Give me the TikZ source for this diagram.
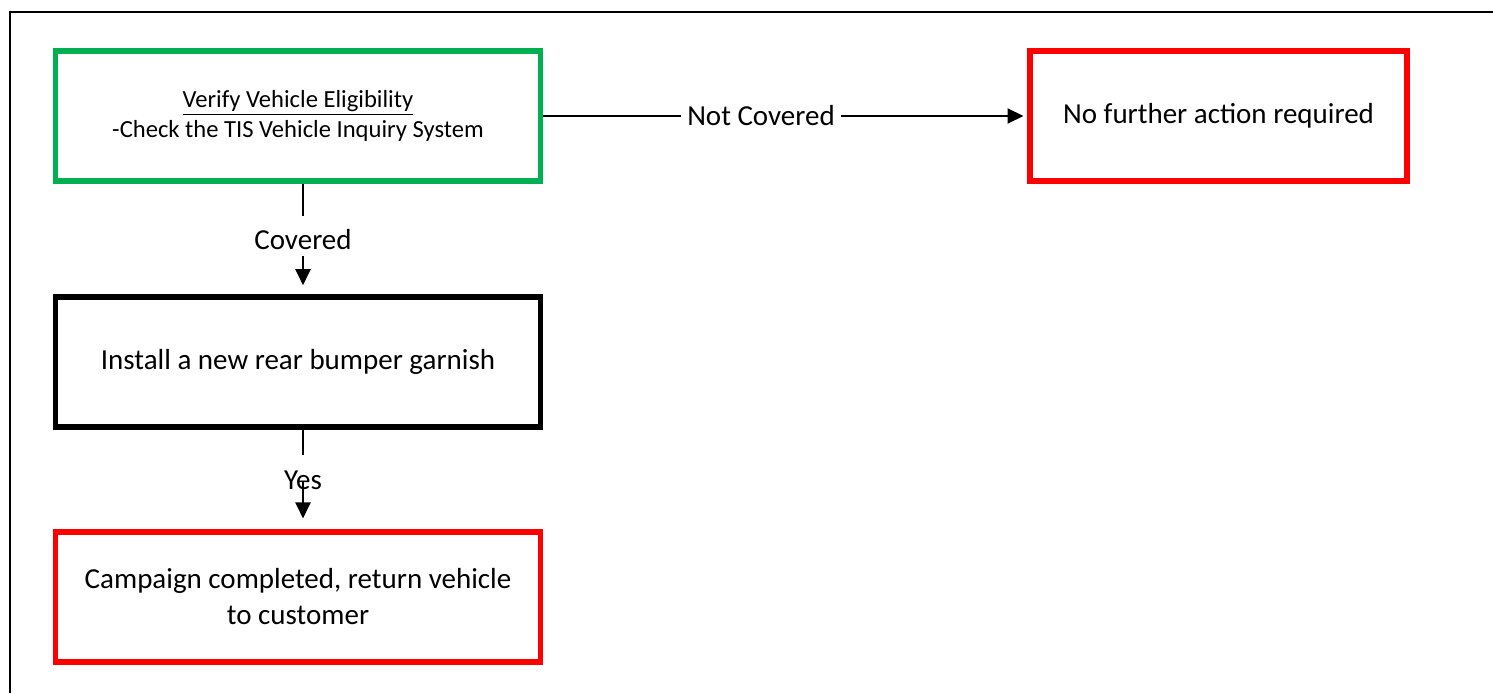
\documentclass[tikz,border=0pt]{standalone}
\usepackage{fontspec}
\setmainfont{Carlito}
\usetikzlibrary{arrows.meta}
\definecolor{boxgreen}{RGB}{0,176,80}
\definecolor{boxred}{RGB}{255,0,0}

\begin{document}
\begin{tikzpicture}[line width=1.1pt,
  box/.style={draw, line width=3.4pt, minimum width=9.7cm, minimum height=2.6cm, align=center, font=\fontsize{16.5}{20.5}\selectfont},
  lbl/.style={inner sep=3pt, font=\fontsize{16.5}{19}\selectfont},
  arr/.style={-{Triangle[length=0.32cm, width=0.3cm]}}]
\useasboundingbox (0,0) rectangle (29.86,-13.86) ;
\coordinate (FL) at (0.2,-13.86) ;
\coordinate (FC) at (0.2,-0.24) ;
\coordinate (FR) at (29.86,-0.24) ;
\draw[line width=1.7pt] (FL) -- (FC) -- (FR) ;
\node[box, draw=boxgreen, font=\fontsize{14}{17.5}\selectfont] (verify) at (5.96,-2.32)
  {\underline{Verify Vehicle Eligibility}\\-Check the TIS Vehicle Inquiry System} ;
\node[box, draw=boxred, minimum width=7.54cm] (nofurther) at (24.37,-2.32) {No further action required} ;
\node[box, draw=black] (install) at (5.96,-7.24) {Install a new rear bumper garnish} ;
\node[box, draw=boxred] (campaign) at (5.96,-11.94) {Campaign completed, return vehicle\\to customer} ;
\node[lbl] (notcovered) at (15.22,-2.32) {Not Covered} ;
\node[lbl] (covered) at (6.06,-4.8) {Covered} ;
\node[lbl] (yes) at (6.06,-9.6) {Yes} ;
\draw (verify.east) -- (notcovered.west) ;
\draw[arr, shorten >=2pt] (notcovered.east) -- (nofurther.west) ;
\draw (verify.south -| covered.north) -- ++(0,-0.64) ;
\draw[arr, shorten >=5pt] (covered.south) -- (install.north -| covered.south) ;
\draw (install.south -| yes.north) -- ++(0,-0.5) ;
\draw[arr, shorten >=6pt] ([yshift=8pt]yes.south) -- (campaign.north -| yes.south) ;
\end{tikzpicture}
\end{document}
